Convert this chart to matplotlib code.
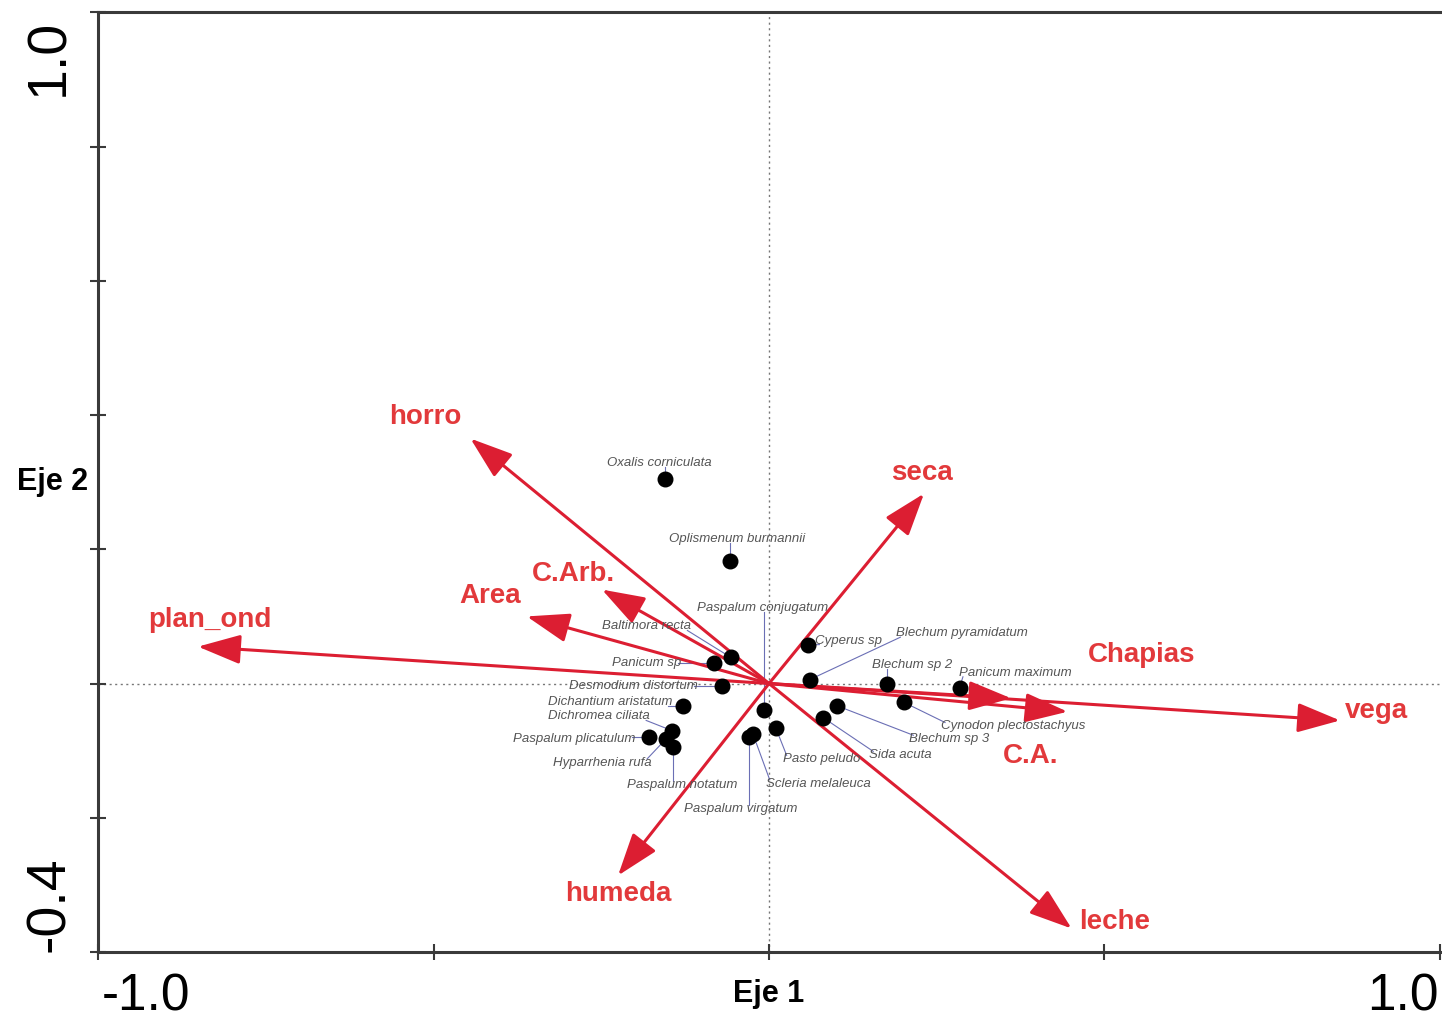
import matplotlib
matplotlib.use("Agg")
import matplotlib.pyplot as plt

plt.rcParams['font.family'] = ['Liberation Sans', 'DejaVu Sans']

# Environmental variables (biplot arrows)
env_names = ["horro", "seca", "C.Arb.", "Area", "plan_ond", "Chapias", "C.A.", "vega", "leche", "humeda"]
env_x = [-0.445, 0.231, -0.249, -0.361, -0.851, 0.361, 0.445, 0.851, 0.451, -0.225]
env_y = [0.365, 0.283, 0.140, 0.100, 0.055, -0.022, -0.042, -0.055, -0.365, -0.286]
env_lab_x = [-0.513, 0.228, -0.291, -0.415, -0.833, 0.555, 0.390, 0.906, 0.515, -0.225]
env_lab_y = [0.397, 0.314, 0.163, 0.130, 0.094, 0.042, -0.108, -0.041, -0.355, -0.314]

# Species scores and label positions
sp_names = ["Oxalis corniculata", "Oplismenum burmannii", "Paspalum conjugatum", "Baltimora recta",
            "Panicum sp", "Desmodium distortum", "Dichantium aristatum", "Dichromea ciliata",
            "Paspalum plicatulum", "Hyparrhenia rufa", "Paspalum notatum", "Paspalum virgatum",
            "Scleria melaleuca", "Pasto peludo", "Sida acuta", "Blechum sp 3",
            "Cynodon plectostachyus", "Panicum maximum", "Blechum sp 2", "Blechum pyramidatum",
            "Cyperus sp"]
sp_x = [-0.155, -0.058, -0.007, -0.057, -0.082, -0.070, -0.128, -0.145, -0.179, -0.154, -0.143,
        -0.030, -0.024, 0.010, 0.081, 0.101, 0.201, 0.284, 0.176, 0.061, 0.058]
sp_y = [0.304, 0.183, -0.039, 0.039, 0.030, -0.004, -0.033, -0.070, -0.080, -0.083, -0.095,
        -0.080, -0.075, -0.066, -0.051, -0.033, -0.028, -0.006, -0.001, 0.006, 0.057]
sp_lab_x = [-0.163, -0.048, -0.010, -0.182, -0.182, -0.202, -0.237, -0.253, -0.290, -0.249, -0.130,
            -0.042, 0.073, 0.078, 0.196, 0.269, 0.364, 0.367, 0.213, 0.288, 0.119]
sp_lab_y = [0.328, 0.215, 0.112, 0.085, 0.031, -0.004, -0.028, -0.049, -0.082, -0.118, -0.151,
            -0.187, -0.149, -0.113, -0.107, -0.083, -0.064, 0.016, 0.027, 0.075, 0.064]

arrow_red = "#dc1e32"
text_red = "#e2393b"
leader = "#6b6fb5"

fig = plt.figure(figsize=(14.42, 10.27), dpi=100)
ax = fig.add_axes([0.068, 0.073, 0.9306, 0.915])
ax.set_xlim(-1.0, 1.0)
ax.set_ylim(-0.4, 1.0)

# Reference lines through the origin
ax.axhline(0, color="#777777", lw=1.0, ls=(0, (1.5, 2.5)), zorder=1)
ax.axvline(0, color="#777777", lw=1.0, ls=(0, (1.5, 2.5)), zorder=1)

# Species labels
sp_texts = []
for name, lx, ly in zip(sp_names, sp_lab_x, sp_lab_y):
    t = ax.text(lx, ly, name, fontsize=9.5, style="italic", color="#555555",
                ha="center", va="center", zorder=5)
    sp_texts.append(t)

# Leader lines from the nearest edge of each label box to its point
fig.canvas.draw()
renderer = fig.canvas.get_renderer()
inv = ax.transData.inverted()
for t, x, y in zip(sp_texts, sp_x, sp_y):
    bb = t.get_window_extent(renderer)
    px, py = ax.transData.transform((x, y))
    cx = min(max(px, bb.x0 + 4), bb.x1 - 4)
    cy = min(max(py, bb.y0 + 2), bb.y1 - 2)
    sx, sy = inv.transform((cx, cy))
    ax.plot([sx, x], [sy, y], color=leader, lw=0.8, zorder=2)

# Species points
ax.scatter(sp_x, sp_y, s=110, color="black", zorder=4)

# Environmental arrows
for x, y in zip(env_x, env_y):
    ax.annotate("", xy=(x, y), xytext=(0, 0),
                arrowprops=dict(arrowstyle="-|>,head_length=1.1,head_width=0.38",
                                color=arrow_red, lw=2.2, mutation_scale=24,
                                shrinkA=0, shrinkB=0),
                zorder=3)
for name, lx, ly in zip(env_names, env_lab_x, env_lab_y):
    ax.text(lx, ly, name, fontsize=20, fontweight="bold", color=text_red,
            ha="center", va="center", zorder=6)

# Axis styling
for side in ["left", "top", "bottom"]:
    ax.spines[side].set_color("#3a3a3a")
    ax.spines[side].set_linewidth(2.2)
ax.spines["right"].set_visible(False)
ax.set_xticks([-1.0, -0.5, 0.0, 0.5, 1.0])
ax.set_yticks([-0.4, -0.2, 0.0, 0.2, 0.4, 0.6, 0.8, 1.0])
ax.tick_params(direction="inout", length=12, width=1.5, color="#3a3a3a",
               labelbottom=False, labelleft=False)

# End labels of the axes
ax.text(0.003, -0.074, "-1.0", transform=ax.transAxes, fontsize=37, ha="left", va="bottom")
ax.text(0.999, -0.074, "1.0", transform=ax.transAxes, fontsize=37, ha="right", va="bottom")
ax.text(-0.036, 0.993, "1.0", transform=ax.transAxes, fontsize=40, rotation=90,
        ha="center", va="top")
ax.text(-0.036, 0.0, "-0.4", transform=ax.transAxes, fontsize=40, rotation=90,
        ha="center", va="bottom")

ax.text(0.5, -0.045, "Eje 1", transform=ax.transAxes, fontsize=22, fontweight="bold",
        ha="center", va="center")
ax.text(-0.034, 0.50, "Eje 2", transform=ax.transAxes, fontsize=22, fontweight="bold",
        ha="center", va="center")

fig.savefig("out.png", dpi=100)
